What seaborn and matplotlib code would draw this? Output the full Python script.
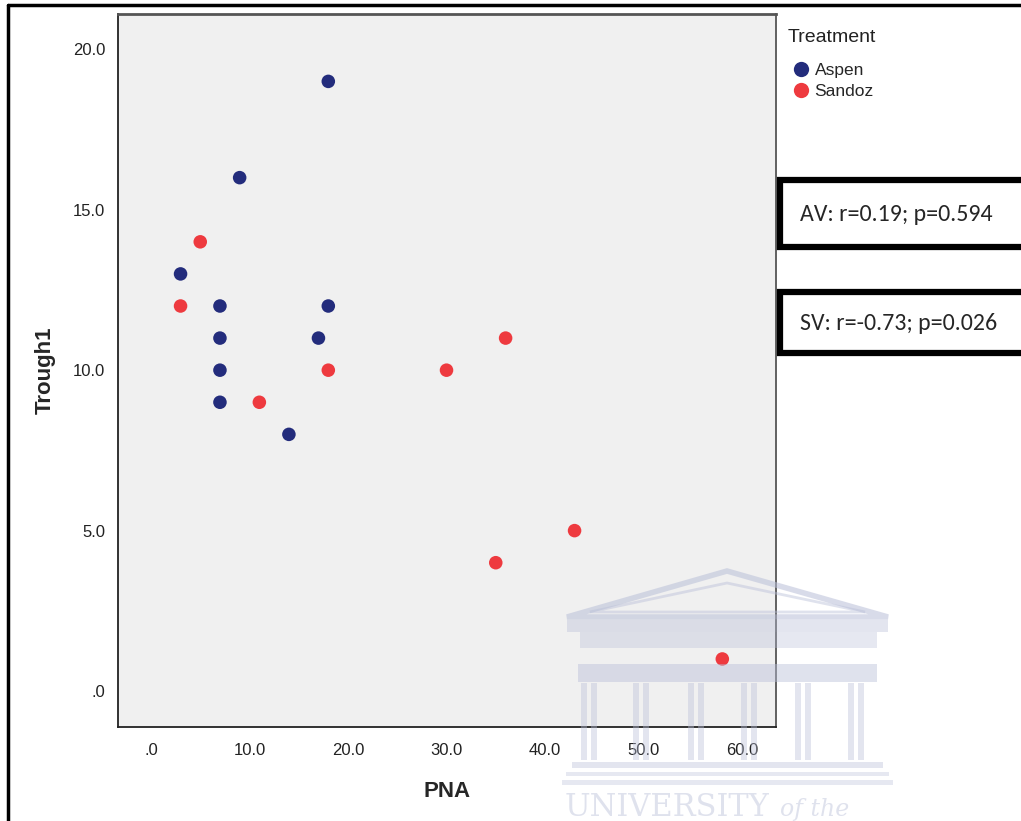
import pandas as pd
import matplotlib.pyplot as plt
import seaborn as sns
from matplotlib.patches import Polygon, Rectangle

# Data
aspen_pna = [18, 9, 3, 7, 18, 7, 17, 7, 7, 14]
aspen_trough = [19, 16, 13, 12, 12, 11, 11, 10, 9, 8]
sandoz_pna = [5, 3, 18, 11, 30, 36, 43, 35, 58]
sandoz_trough = [14, 12, 10, 9, 10, 11, 5, 4, 1]
treatments = ['Aspen', 'Sandoz']
colors = ['#232c7c', '#ee3a3f']
x_ticks = [0, 10, 20, 30, 40, 50, 60]
y_ticks = [0, 5, 10, 15, 20]
stat_labels = ['AV: r=0.19; p=0.594', 'SV: r=-0.73; p=0.026']

df = pd.DataFrame({
    'PNA': aspen_pna + sandoz_pna,
    'Trough1': aspen_trough + sandoz_trough,
    'Treatment': ['Aspen'] * len(aspen_pna) + ['Sandoz'] * len(sandoz_pna),
})

sns.set_style('white')
plt.rcParams['font.family'] = ['Liberation Sans', 'DejaVu Sans']

W, H = 1021, 821
fig = plt.figure(figsize=(W / 100, H / 100), dpi=100)
ax = fig.add_axes([118 / W, 1 - 727 / H, (776 - 118) / W, (727 - 14) / H])
ax.set_facecolor('#f0f0f0')

sns.scatterplot(data=df, x='PNA', y='Trough1', hue='Treatment', hue_order=treatments,
                palette=colors, s=95, edgecolor='none', ax=ax, legend=False, zorder=3)

ax.set_xlim(-3.35, 63.45)
ax.set_ylim(-1.12, 21.1)
ax.set_xticks(x_ticks)
ax.set_yticks(y_ticks)
ax.set_xticklabels(['.0' if v == 0 else f'{v:.1f}' for v in x_ticks], fontsize=12, color='#222222')
ax.set_yticklabels(['.0' if v == 0 else f'{v:.1f}' for v in y_ticks], fontsize=12, color='#222222')
ax.tick_params(axis='both', direction='out', length=7.2, width=1.5, color='#222222')
ax.tick_params(axis='x', pad=4)
ax.tick_params(axis='y', pad=2)
ax.set_xlabel('PNA', fontsize=16, fontweight='bold', labelpad=17)
ax.set_ylabel('Trough1', fontsize=16, fontweight='bold', labelpad=12)
for side in ['left', 'bottom']:
    ax.spines[side].set_color('#222222')
    ax.spines[side].set_linewidth(1.3)
for side in ['top', 'right']:
    ax.spines[side].set_color('#555555')
    ax.spines[side].set_linewidth(1.3)
ax.spines['top'].set_linewidth(2)

# legend: title as its own text, entries slightly indented below it
fig.text(788 / W, 1 - 38 / H, 'Treatment', fontsize=14, color='#222222',
         va='center', ha='left')
handles = [plt.Line2D([], [], marker='o', linestyle='none', markersize=11,
                      markerfacecolor=c, markeredgecolor='none') for c in colors]
fig.legend(handles, treatments, loc='upper left',
           bbox_to_anchor=(792 / W, 1 - 63 / H), frameon=False, fontsize=12.5,
           handletextpad=0.3, labelspacing=0.32,
           borderaxespad=0, borderpad=0, handlelength=1.0)

# outer frame lines (left and top)
fig.add_artist(plt.Line2D([8 / W, 8 / W], [0, 1 - 5 / H], color='black', lw=2.5))
fig.add_artist(plt.Line2D([8 / W, 1], [1 - 5 / H, 1 - 5 / H], color='black', lw=2.5))

# stats boxes at the right
for (top, bottom), label in zip([(180, 247), (292, 353)], stat_labels):
    fig.add_artist(Rectangle((780 / W, 1 - bottom / H), 250 / W, (bottom - top) / H,
                             transform=fig.transFigure, facecolor='white',
                             edgecolor='black', lw=4.5, clip_on=False))
    fig.text(800 / W, 1 - ((top + bottom) / 2 + 1) / H, label, fontsize=17.2,
             family=['Carlito', 'Lato', 'DejaVu Sans'], va='center', ha='left')

# faint watermark (building logo) in the lower right
wm = '#b9bfd8'


def px(x, y):
    return (x / W, 1 - y / H)


def box(x0, y0, x1, y1, alpha):
    fig.add_artist(Rectangle(px(x0, y1), (x1 - x0) / W, (y1 - y0) / H,
                             transform=fig.transFigure, facecolor=wm,
                             edgecolor='none', alpha=alpha, zorder=5))


fig.add_artist(Polygon([px(567, 617), px(727, 571), px(888, 617)], closed=True,
                       transform=fig.transFigure, fill=False, edgecolor=wm,
                       lw=4, alpha=0.55, zorder=5))
fig.add_artist(Polygon([px(590, 612), px(727, 583), px(865, 612)], closed=True,
                       transform=fig.transFigure, fill=False, edgecolor=wm,
                       lw=2, alpha=0.45, zorder=5))
box(567, 620, 888, 632, 0.4)
box(580, 632, 877, 648, 0.35)
box(578, 664, 877, 682, 0.45)
for cx in [593, 645, 700, 753, 807, 860]:
    box(cx - 12, 683, cx - 6, 760, 0.4)
    box(cx - 2, 683, cx + 4, 760, 0.4)
box(572, 762, 883, 768, 0.4)
box(566, 772, 889, 776, 0.35)
box(562, 780, 893, 785, 0.35)
fig.text(565 / W, 1 - 816 / H, 'UNIVERSITY', fontsize=22, family='DejaVu Serif',
         color=wm, alpha=0.45, va='baseline', ha='left', zorder=5)
fig.text(780 / W, 1 - 816 / H, 'of the', fontsize=17, family='DejaVu Serif',
         style='italic', color=wm, alpha=0.45, va='baseline', ha='left', zorder=5)

fig.savefig('out.png', dpi=100)
